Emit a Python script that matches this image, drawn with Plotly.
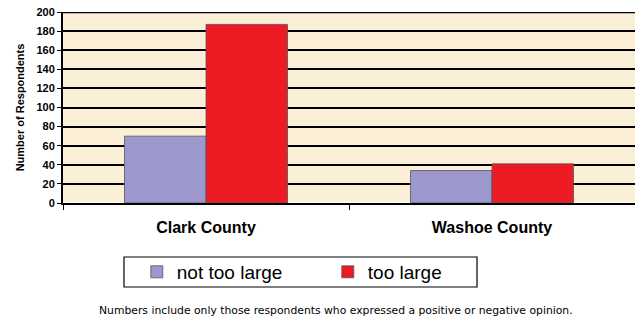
import plotly.graph_objects as go

counties = ["Clark County", "Washoe County"]
not_too_large = [70, 34]
too_large = [187, 41]
y_ticks = list(range(0, 201, 20))

FONT = "Liberation Sans, Arial, sans-serif"

fig = go.Figure()
fig.add_trace(go.Bar(name="not too large", x=counties, y=not_too_large,
                     marker=dict(color="#9c97cc", line=dict(color="#555555", width=0.8))))
fig.add_trace(go.Bar(name="too large", x=counties, y=too_large,
                     marker=dict(color="#ed1c24", line=dict(color="#555555", width=0.8))))

fig.update_layout(
    width=635, height=322,
    margin=dict(l=63, r=0, t=12, b=119),
    barmode="group", bargap=0.43, bargroupgap=0,
    plot_bgcolor="#fcefd8", paper_bgcolor="white",
    font=dict(family=FONT, color="black"),
    showlegend=True,
    legend=dict(orientation="h", x=0.129, xanchor="left", y=-0.361, yanchor="middle",
                borderwidth=0, bgcolor="rgba(0,0,0,0)", font=dict(size=19),
                entrywidth=146, itemwidth=30, traceorder="normal"),
    xaxis=dict(showgrid=False, tickfont=dict(size=16, family=FONT),
               ticks="outside", tickson="boundaries", ticklen=5, tickcolor="black",
               ticklabelstandoff=9,
               showline=True, linecolor="black", linewidth=1.5),
    yaxis=dict(range=[0, 200], tickvals=y_ticks, showgrid=True, gridcolor="black", gridwidth=1.5,
               ticks="outside", ticklen=4, tickcolor="black",
               tickfont=dict(size=11), showline=True, linecolor="black", linewidth=2,
               title=dict(text="<b>Number of Respondents</b>", font=dict(size=11), standoff=10)),
)
fig.update_xaxes(ticktext=["<b>Clark County</b>", "<b>Washoe County</b>"], tickvals=counties)
fig.update_yaxes(ticktext=[f"<b>{v}</b>" for v in y_ticks])

# top border of the plot area
fig.add_shape(type="line", xref="paper", yref="y", x0=0, x1=1, y0=200, y1=200,
              line=dict(color="black", width=2.5))

# frame around the legend
fig.add_shape(type="rect", xref="paper", yref="paper", x0=0.1066, x1=0.7238,
              y0=-0.4398, y1=-0.2827, line=dict(color="black", width=1.2))

fig.add_annotation(text="Numbers include only those respondents who expressed a positive or negative opinion.",
                   xref="paper", yref="paper", x=0.477, y=-0.565, yanchor="middle", showarrow=False,
                   font=dict(size=10.8, family="DejaVu Sans, sans-serif"))

fig.write_html("out.html")
